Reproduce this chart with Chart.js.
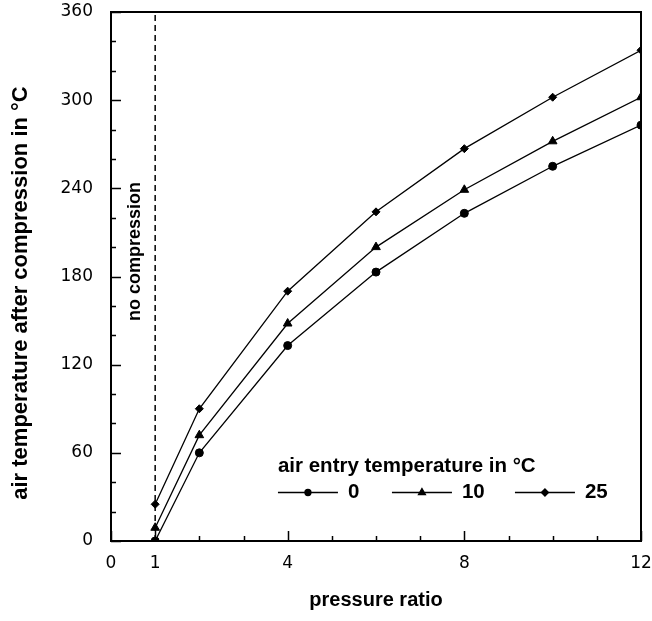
<!DOCTYPE html>
<html>
<head>
<meta charset="utf-8">
<script src="https://cdn.jsdelivr.net/npm/chart.js@4.4.1/dist/chart.umd.min.js"></script>
<style>
  html, body { margin: 0; padding: 0; background: #fff; }
  #wrap { width: 652px; height: 621px; }
</style>
</head>
<body>
<div id="wrap"><canvas id="c" width="652" height="621"></canvas></div>
<script>
// pressure ratio (x) and air temperature after compression (°C)
const pressureRatio = [1, 2, 4, 6, 8, 10, 12];
const temp0 = [0, 60, 133, 183, 223, 255, 283];
const temp10 = [9, 72, 148, 200, 239, 272, 302];
const temp25 = [25, 90, 170, 224, 267, 302, 334];
const entryLabels = ['0', '10', '25'];

const xTickLabels = [0, 1, 4, 8, 12];
const yTickLabels = [0, 60, 120, 180, 240, 300, 360];
const noCompressionLine = [{ x: 1, y: 0 }, { x: 1, y: 360 }];

const FONT = '"Liberation Sans", Arial, sans-serif';
const TICK_FONT = '"DejaVu Sans", sans-serif';

function pts(ys) {
    return pressureRatio.map((x, i) => ({ x: x, y: ys[i] }));
}

function series(label, ys, style, radius) {
    return {
        label: label,
        data: pts(ys),
        borderColor: '#000',
        backgroundColor: '#000',
        borderWidth: 1.3,
        pointStyle: style,
        pointRadius: radius,
        pointBorderWidth: 1,
        tension: 0
    };
}

// no label overflow padding, so the plot box sits where the frame is
function noPad(s) {
    s.paddingTop = 0; s.paddingBottom = 0; s.paddingLeft = 0; s.paddingRight = 0;
}

// inward tick marks, frame, y title, "no compression" note and the legend block
const decorations = {
    id: 'decorations',
    afterDraw(chart) {
        const { ctx, chartArea: a, scales: { x, y } } = chart;
        ctx.save();
        ctx.strokeStyle = '#000';
        ctx.lineWidth = 1.5;
        ctx.beginPath();
        for (let v = 0; v <= 12; v++) {
            const px = Math.round(x.getPixelForValue(v)) + 0.5;
            const len = xTickLabels.includes(v) ? 10 : 5;
            ctx.moveTo(px, a.bottom);
            ctx.lineTo(px, a.bottom - len);
        }
        for (let v = 0; v <= 360; v += 20) {
            const py = Math.round(y.getPixelForValue(v)) + 0.5;
            const len = v % 60 === 0 ? 10 : 5;
            ctx.moveTo(a.left, py);
            ctx.lineTo(a.left + len, py);
        }
        ctx.stroke();

        ctx.lineWidth = 2;
        ctx.strokeRect(a.left, a.top, a.right - a.left, a.bottom - a.top);

        ctx.fillStyle = '#000';
        ctx.textAlign = 'center';
        ctx.textBaseline = 'middle';

        // y axis title
        ctx.save();
        ctx.font = 'bold 22px ' + FONT;
        ctx.translate(21, 293);
        ctx.rotate(-Math.PI / 2);
        ctx.fillText('air temperature after compression in °C', 0, 0);
        ctx.restore();

        // no compression label
        ctx.save();
        ctx.font = 'bold 18px ' + FONT;
        ctx.translate(x.getPixelForValue(1) - 20, y.getPixelForValue(197));
        ctx.rotate(-Math.PI / 2);
        ctx.fillText('no compression', 0, 0);
        ctx.restore();

        // legend
        const lx = x.getPixelForValue(3.78);
        ctx.font = 'bold 20.5px ' + FONT;
        ctx.textAlign = 'left';
        ctx.fillText('air entry temperature in °C', lx, y.getPixelForValue(51));
        const rowY = y.getPixelForValue(33);
        const starts = [0, 114, 237];
        const legR = [3, 4, 3.5];
        chart.data.datasets.slice(0, 3).forEach((ds, i) => {
            const x0 = lx + starts[i];
            ctx.lineWidth = 1.3;
            ctx.beginPath();
            ctx.moveTo(x0, rowY);
            ctx.lineTo(x0 + 60, rowY);
            ctx.stroke();
            Chart.helpers.drawPoint(ctx, { pointStyle: ds.pointStyle, radius: legR[i], borderWidth: 1 }, x0 + 30, rowY);
            ctx.fill();
            ctx.fillText(entryLabels[i], x0 + 70, rowY);
        });
        ctx.restore();
    }
};

new Chart(document.getElementById('c'), {
    type: 'line',
    data: {
        datasets: [
            series('0', temp0, 'circle', 4),
            series('10', temp10, 'triangle', 5),
            series('25', temp25, 'rectRot', 4),
            {
                label: 'no compression',
                data: noCompressionLine,
                borderColor: '#000',
                borderWidth: 1.5,
                borderDash: [6, 4],
                pointRadius: 0
            }
        ]
    },
    options: {
        responsive: false,
        animation: false,
        layout: { padding: { top: 12, right: 11, left: 0, bottom: 0 } },
        plugins: { legend: { display: false }, tooltip: { enabled: false } },
        scales: {
            x: {
                type: 'linear',
                min: 0,
                max: 12,
                grid: { display: false, drawTicks: false },
                border: { display: false },
                afterBuildTicks: (s) => { s.ticks = xTickLabels.map(v => ({ value: v })); },
                afterFit: (s) => { s.height = 80; noPad(s); },
                ticks: { color: '#000', padding: 12, maxRotation: 0, font: { size: 17, family: TICK_FONT } },
                title: { display: true, text: 'pressure ratio', color: '#000', padding: { top: 0, bottom: 9 }, font: { size: 20, weight: 'bold', family: FONT } }
            },
            y: {
                min: 0,
                max: 360,
                grid: { display: false, drawTicks: false },
                border: { display: false },
                afterBuildTicks: (s) => { s.ticks = yTickLabels.map(v => ({ value: v })); },
                afterFit: (s) => { s.width = 111; noPad(s); },
                ticks: { color: '#000', padding: 18, font: { size: 17, family: TICK_FONT } },
                title: { display: false }
            }
        }
    },
    plugins: [decorations]
});
</script>
</body>
</html>
